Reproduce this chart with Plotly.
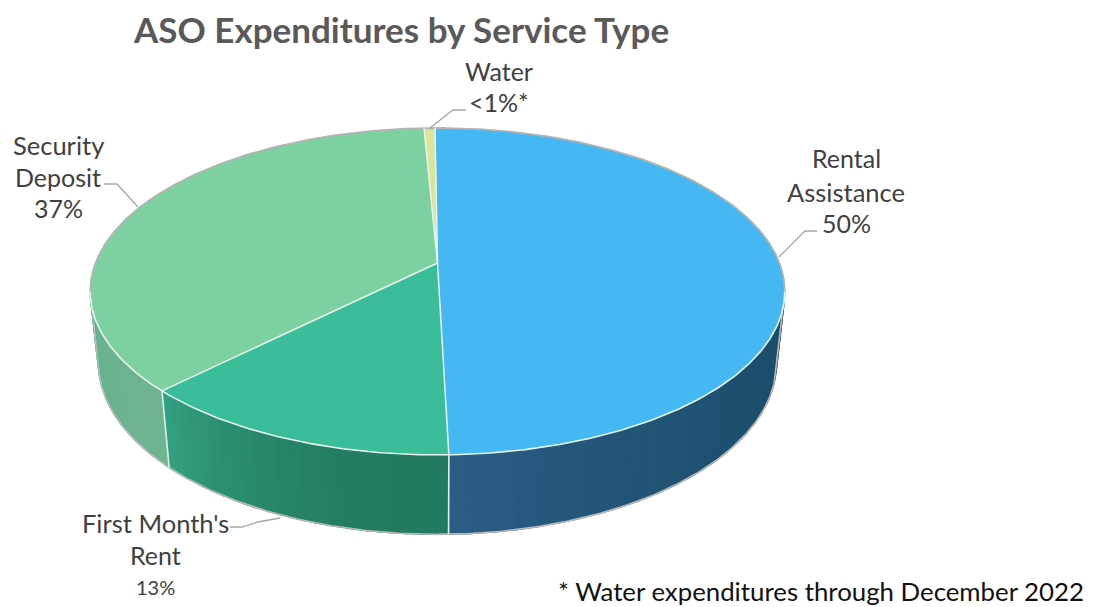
import numpy as np
import plotly.graph_objects as go

# Expenditure shares, clockwise from the top of the pie
services = ["Rental Assistance", "First Month's Rent", "Security Deposit", "Water"]
shares = [50, 13, 37, 0.6]
top_colors = ["#45b8f3", "#3abd98", "#7dd0a0", "#dbe49c"]
# Wall tones at the start and end of each slice's visible arc
wall_start = ["#1b4e6c", "#227a60", "#6fb391", "#dbe49c"]
wall_end = ["#2a5d85", "#339f81", "#5cb48f", "#dbe49c"]

TITLE = "ASO Expenditures by Service Type"
FOOTNOTE = "* Water expenditures through December 2022"

# Perspective projection of the cylinder onto the page
CX, CY = 437.5, 263.0
RX, RY = 342.0, 158.5
TILT, DROP, DEPTH_FADE = -0.174, 72.0, 0.0235
START_DEG = -0.5
# Arc of the wall facing the viewer, between the two silhouette tangents
WALL_LIMITS = (100.0, 260.0)
WALL_STEPS = 24


def project(deg, h=0.0):
    """Page position of a point at a clockwise angle on the rim; h=1 is the base."""
    a = np.radians(deg)
    u, v = np.sin(a), -np.cos(a)
    w = 1 + TILT * v + DEPTH_FADE * h
    return CX + RX * u / w, CY + (RY * v + DROP * h) / w


def arc(d0, d1, h=0.0):
    n = max(int(abs(d1 - d0) * 2), 2)
    return project(np.linspace(d0, d1, n), h)


def mix(c0, c1, t):
    a = [int(c0[i:i + 2], 16) for i in (1, 3, 5)]
    b = [int(c1[i:i + 2], 16) for i in (1, 3, 5)]
    return "rgb(%d,%d,%d)" % tuple(round(p + (q - p) * t) for p, q in zip(a, b))


def poly(x, y, fill=None, line=None, width=1.0):
    return go.Scatter(
        x=list(x), y=list(y), mode="lines", hoverinfo="skip", showlegend=False,
        fill="toself" if fill else "none", fillcolor=fill,
        line=dict(color=line or fill, width=width),
    )


edges = START_DEG + np.concatenate([[0], np.cumsum(shares)]) / np.sum(shares) * 360
fig = go.Figure()

# Outer wall, shaded in short steps along each slice
for i in range(len(shares)):
    d0 = max(edges[i], WALL_LIMITS[0])
    d1 = min(edges[i + 1], WALL_LIMITS[1])
    if d1 <= d0:
        continue
    steps = np.linspace(d0, d1, WALL_STEPS + 1)
    for k in range(WALL_STEPS):
        xa, ya = arc(steps[k], steps[k + 1], 0)
        xb, yb = arc(steps[k + 1], steps[k], 1)
        t = k / (WALL_STEPS - 1)
        fig.add_trace(poly(np.r_[xa, xb, xa[0]], np.r_[ya, yb, ya[0]],
                           fill=mix(wall_start[i], wall_end[i], t ** 2), width=1.4))

# Silhouette of the base and its two tangent sides
xb, yb = arc(*WALL_LIMITS, 1)
xl, yl = project(WALL_LIMITS[0], 0)
xr, yr = project(WALL_LIMITS[1], 0)
fig.add_trace(poly(np.r_[xl, xb, xr], np.r_[yl, yb, yr], line="#b9b9b9", width=1.6))

# Top face
for i in range(len(shares)):
    xa, ya = arc(edges[i], edges[i + 1], 0)
    fig.add_trace(poly(np.r_[CX, xa, CX], np.r_[CY, ya, CY], fill=top_colors[i], width=0.5))

# Grey rim behind, pale rim in front, pale separators between slices
xr, yr = arc(WALL_LIMITS[1], WALL_LIMITS[0] + 360, 0)
fig.add_trace(poly(xr, yr, line="#b4b4b4", width=1.8))
xr, yr = arc(*WALL_LIMITS, 0)
fig.add_trace(poly(xr, yr, line="#e6f3ee", width=1.6))
for e in edges[:-1]:
    x1, y1 = project(e, 0)
    fig.add_trace(poly([CX, x1], [CY, y1], line="#e8f4ee", width=1.5))
    if WALL_LIMITS[0] < e < WALL_LIMITS[1]:
        x2, y2 = project(e, 1)
        fig.add_trace(poly([x1, x2], [y1, y2], line="#d9efe8", width=1.6))

# Leader lines from the rim to each label
leaders = [
    ([779, 805, 817], [257, 231, 231]),
    ([280, 258, 242, 230], [518, 522, 527, 527]),
    ([138, 117, 104], [207, 184, 184]),
    ([430, 453, 466], [128, 110, 110]),
]
for lx, ly in leaders:
    fig.add_trace(poly(lx, ly, line="#a6a6a6", width=1.3))

# Labels, one annotation per line: (text, x, y, size)
label_lines = [
    ("Rental", 846, 158, 25), ("Assistance", 846, 192, 25.5), ("50%", 846, 223, 25),
    ("First Month's", 155, 523, 25.5), ("Rent", 155, 555, 25), ("13%", 155, 587, 20),
    ("Security", 58, 145, 25.5), ("Deposit", 58, 177, 25), ("37%", 58, 208, 25),
    ("Water", 499, 71, 25), ("&lt;1%*", 499, 102, 25),
]
for text, x, y, size in label_lines:
    fig.add_annotation(x=x, y=y, text=text, showarrow=False, xanchor="center", yanchor="middle",
                       font=dict(family="Lato", size=size, color="#404040"))

fig.add_annotation(x=400.5, y=29, text="<b>%s</b>" % TITLE, showarrow=False, xanchor="center",
                   yanchor="middle", font=dict(family="Lato", size=35, color="#595959"))
fig.add_annotation(x=1085.5, y=591, text=FOOTNOTE, showarrow=False, xanchor="right", yanchor="middle",
                   font=dict(family="Lato", size=25.8, color="#111111"))

fig.update_layout(
    width=1094, height=607, margin=dict(l=0, r=0, t=0, b=0),
    paper_bgcolor="white", plot_bgcolor="white", showlegend=False,
    xaxis=dict(range=[0, 1094], visible=False, fixedrange=True),
    yaxis=dict(range=[607, 0], visible=False, fixedrange=True),
)
fig.write_html("out.html", config={"displayModeBar": False})
